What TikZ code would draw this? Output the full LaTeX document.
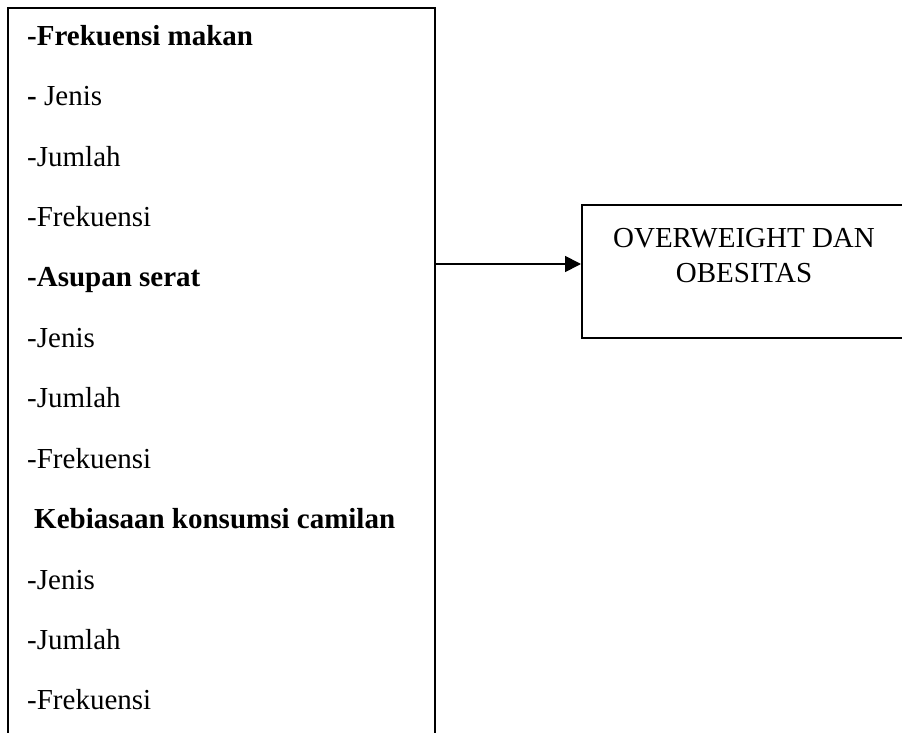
\documentclass[tikz,border=0pt]{standalone}
\usepackage{fontspec}
\setmainfont{Liberation Serif}
\usetikzlibrary{arrows.meta}

\tikzset{
	boxline/.style={draw, line width=1.8pt, rectangle, inner sep=0pt, anchor=north west},
	itemtxt/.style={inner sep=0pt, anchor=base west, font=\fontsize{29}{34}\selectfont},
	hasiltxt/.style={inner sep=0pt, anchor=base, font=\fontsize{29}{34}\selectfont}
}

\begin{document}
\begin{tikzpicture}[x=1pt, y=-1pt]
		%%%%% START %%%%%
		\useasboundingbox (0, 0) rectangle (902, 733);
		
		\node[boxline, minimum width=427pt, minimum height=820pt] (pola) at (7, 7) {};
		\node[boxline, minimum width=400pt, minimum height=133pt] (hasil) at (581, 204) {};
		
		\node[itemtxt] (frek) at (27, 46) {\textbf{-Frekuensi makan}};
		\node[itemtxt] (frekA) at (27, 106) {\textbf{-} Jenis};
		\node[itemtxt] (frekB) at (27, 166) {-Jumlah};
		\node[itemtxt] (frekC) at (27, 226) {-Frekuensi};
		
		\node[itemtxt] (serat) at (27, 286) {\textbf{-Asupan serat}};
		\node[itemtxt] (seratA) at (27, 347) {-Jenis};
		\node[itemtxt] (seratB) at (27, 407) {-Jumlah};
		\node[itemtxt] (seratC) at (27, 468) {-Frekuensi};
		
		\node[itemtxt] (camilan) at (34, 528) {\textbf{Kebiasaan konsumsi camilan}};
		\node[itemtxt] (camilanA) at (27, 589) {-Jenis};
		\node[itemtxt] (camilanB) at (27, 649) {-Jumlah};
		\node[itemtxt] (camilanC) at (27, 709) {-Frekuensi};
		
		\node[hasiltxt] (hasilA) at (744, 247) {OVERWEIGHT DAN};
		\node[hasiltxt] (hasilB) at (744, 282) {OBESITAS};
		
		\coordinate (lvl) at (0, 264);
		\draw[line width=1.8pt, -{Triangle[length=16pt, width=16pt]}] (pola.east |- lvl) -- (hasil.west |- lvl);
		
		%%%%% END %%%%%
	\end{tikzpicture}
\end{document}
